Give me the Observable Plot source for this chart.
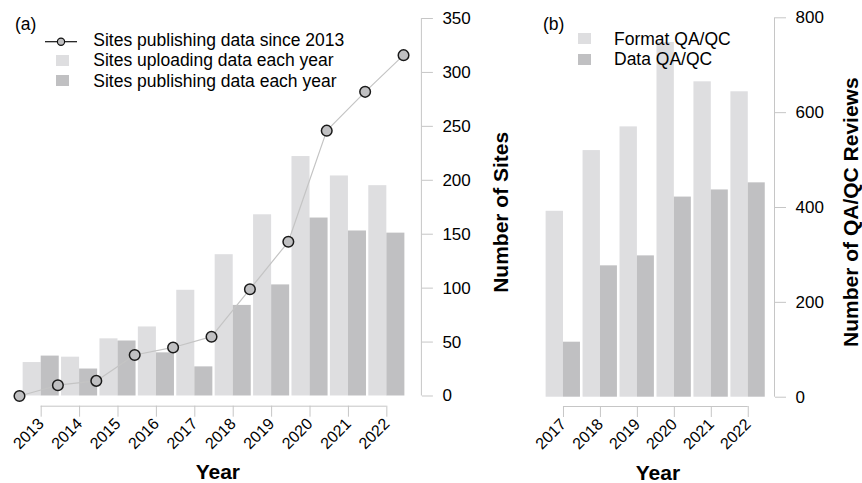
<!DOCTYPE html>
<html><head><meta charset="utf-8">
<script src="https://cdn.jsdelivr.net/npm/d3@7"></script>
<script src="https://cdn.jsdelivr.net/npm/@observablehq/plot@0.6"></script>
<style>
body{margin:0;background:#fff;}
#wrap{position:relative;width:862px;height:483px;font-family:"Liberation Sans",Arial,Helvetica,sans-serif;color:#000;overflow:hidden;}
.panel{position:absolute;top:0;}
.lab{position:absolute;font-size:17.5px;white-space:nowrap;line-height:17.5px;}
svg text{font-family:"Liberation Sans",Arial,sans-serif;}
[aria-label="y-axis tick"],[aria-label="x-axis tick"]{stroke:#c6c6c6;}
[aria-label="x-axis label"],[aria-label="y-axis label"]{font-weight:bold;font-size:21px;}
#legend{position:absolute;left:0;top:0;}
</style></head><body><div id="wrap"></div>
<script>
// ---- Panel (a) data ----
const yearsA = [2013, 2014, 2015, 2016, 2017, 2018, 2019, 2020, 2021, 2022];
const uploadA = [31, 36, 53, 64, 98, 131, 168, 222, 204, 195];
const publishA = [37, 25, 51, 40, 27, 84, 103, 165, 153, 151];
const cumYears = [2013, 2014, 2015, 2016, 2017, 2018, 2019, 2020, 2021, 2022, 2023];
const cumSites = [0, 10, 14, 38, 45, 55, 99, 143, 246, 282, 316];
const ticksA = [0, 50, 100, 150, 200, 250, 300, 350];
// ---- Panel (b) data ----
const yearsB = [2017, 2018, 2019, 2020, 2021, 2022];
const formatQC = [392, 520, 570, 748, 665, 644];
const dataQC = [116, 277, 298, 422, 437, 452];
const ticksB = [0, 200, 400, 600, 800];

const light = "#dedee0", dark = "#c0c0c2", gray = "#c6c6c6";
const wrap = document.getElementById("wrap");

const rowsA = yearsA.map((y, i) => ({year: y, upload: uploadA[i], publish: publishA[i]}));
const cumRows = cumYears.map((y, i) => ({year: y, v: cumSites[i]}));
const xDomA = [2012.3, 2022.9], yDomA = [-9.46, 350];
const chartA = Plot.plot({
  width: 530, height: 483,
  marginLeft: 13.8, marginRight: 109.1, marginTop: 18, marginBottom: 77.3,
  x: {domain: xDomA}, y: {domain: yDomA},
  style: {fontFamily: "Liberation Sans, Arial, sans-serif", fontSize: "17px", background: "transparent"},
  marks: [
    Plot.rect(rowsA, {x1: d => d.year - 0.47, x2: "year", y1: 0, y2: "upload", fill: light}),
    Plot.rect(rowsA, {x1: "year", x2: d => d.year + 0.47, y1: 0, y2: "publish", fill: dark}),
    Plot.line(cumRows, {x: d => d.year - 0.565, y: "v", stroke: "#c4c4c4", strokeWidth: 1.2}),
    Plot.dot(cumRows, {x: d => d.year - 0.565, y: "v", r: 5.3, fill: "#c0c0c2", stroke: "#1a1a1a", strokeWidth: 1.5}),
    Plot.ruleX([xDomA[1]], {y1: ticksA[0], y2: ticksA.at(-1), stroke: gray}),
    Plot.ruleY([yDomA[0]], {x1: yearsA[0], x2: yearsA.at(-1), stroke: gray}),
    Plot.axisY({anchor: "right", ticks: ticksA, tickSize: 11, tickPadding: 10, fontSize: 17,
      label: "Number of Sites", labelAnchor: "center", labelOffset: 87, labelArrow: false}),
    Plot.axisX({anchor: "bottom", ticks: yearsA, tickFormat: d => String(d), tickRotate: -45,
      tickSize: 11, tickPadding: 4, fontSize: 16, label: "Year", labelAnchor: "center", labelOffset: 73, labelArrow: false})
  ]
});
chartA.classList.add("panel");
chartA.style.left = "0px";
wrap.appendChild(chartA);

const rowsB = yearsB.map((y, i) => ({year: y, format: formatQC[i], data: dataQC[i]}));
const xDomB = [2016.4, 2022.71], yDomB = [-19.6, 800];
const chartB = Plot.plot({
  width: 332, height: 483,
  marginLeft: 10.8, marginRight: 88, marginTop: 17.3, marginBottom: 77,
  x: {domain: xDomB}, y: {domain: yDomB},
  style: {fontFamily: "Liberation Sans, Arial, sans-serif", fontSize: "17px", background: "transparent"},
  marks: [
    Plot.rect(rowsB, {x1: d => d.year - 0.47, x2: "year", y1: 0, y2: "format", fill: light}),
    Plot.rect(rowsB, {x1: "year", x2: d => d.year + 0.46, y1: 0, y2: "data", fill: dark}),
    Plot.ruleX([xDomB[1]], {y1: ticksB[0], y2: ticksB.at(-1), stroke: gray}),
    Plot.ruleY([yDomB[0]], {x1: yearsB[0], x2: yearsB.at(-1), stroke: gray}),
    Plot.axisY({anchor: "right", ticks: ticksB, tickSize: 11, tickPadding: 10, fontSize: 17,
      label: "Number of QA/QC Reviews", labelAnchor: "center", labelOffset: 83, labelArrow: false}),
    Plot.axisX({anchor: "bottom", ticks: yearsB, tickFormat: d => String(d), tickRotate: -45,
      tickSize: 11, tickPadding: 4, fontSize: 16, label: "Year", labelAnchor: "center", labelOffset: 73, labelArrow: false})
  ]
});
chartB.classList.add("panel");
chartB.style.left = "530px";
wrap.appendChild(chartB);

// ---- Legends (HTML/SVG overlay) ----
function addLab(text, left, baseline) {
  const d = document.createElement("div");
  d.className = "lab";
  d.textContent = text;
  d.style.left = left + "px";
  d.style.top = (baseline - 14.8) + "px";
  wrap.appendChild(d);
}
addLab("(a)", 15, 31);
addLab("(b)", 543, 31);
const legA = ["Sites publishing data since 2013", "Sites uploading data each year", "Sites publishing data each year"];
const legB = ["Format QA/QC", "Data QA/QC"];
legA.forEach((t, i) => addLab(t, 93.3, 46.5 + i * 20.6));
legB.forEach((t, i) => addLab(t, 614, 45.5 + i * 20.6));

const ns = "http://www.w3.org/2000/svg";
const sv = document.createElementNS(ns, "svg");
sv.setAttribute("width", 862); sv.setAttribute("height", 483);
sv.setAttribute("id", "legend");
sv.innerHTML = `
  <line x1="45" x2="77" y1="41.7" y2="41.7" stroke="#111" stroke-width="1.2"/>
  <circle cx="61" cy="41.7" r="3.6" fill="${dark}" stroke="#111" stroke-width="1.2"/>
  <rect x="56" y="55" width="13" height="11" fill="${light}"/>
  <rect x="56" y="75" width="13" height="11" fill="${dark}"/>
  <rect x="578" y="33" width="13" height="11" fill="${light}"/>
  <rect x="578" y="54" width="13" height="11" fill="${dark}"/>`;
wrap.insertBefore(sv, wrap.firstChild);
</script></body></html>
